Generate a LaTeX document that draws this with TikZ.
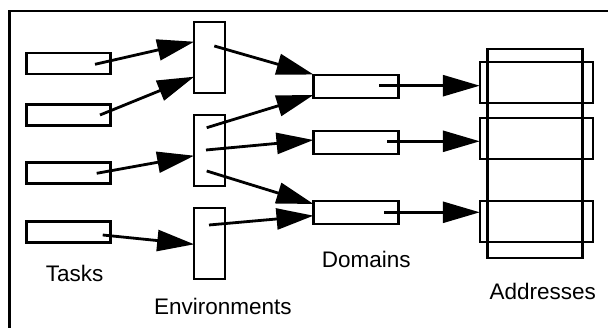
\documentclass[tikz,border=0pt]{standalone}
\usepackage{fontspec}
\setmainfont{Liberation Sans}
\usetikzlibrary{arrows.meta}
\begin{document}
\begin{tikzpicture}[x=1pt,y=-1pt,
  box/.style={draw=black,line width=2.3pt,inner sep=0pt,outer sep=0pt},
  taskbox/.style={box,minimum width=84pt,minimum height=21pt},
  envbox/.style={box,minimum width=31pt,minimum height=71pt},
  dombox/.style={box,minimum width=85pt,minimum height=23pt},
  addrbox/.style={box,minimum width=113pt,minimum height=41pt},
  arr/.style={line width=2.8pt,-{Triangle[length=37pt,width=21pt]}},
  lab/.style={anchor=base west,inner sep=0pt,font=\fontsize{22.5}{26}\selectfont}]
\useasboundingbox (0,0) rectangle (608,328);
% frame
\draw[line width=2.3pt] (9.5,328) -- (9.5,11) -- (608,11);
% tasks
\node[taskbox] (t1) at (68.5,63.8) {};
\node[taskbox] (t2) at (68.5,115) {};
\node[taskbox] (t3) at (68.5,173) {};
\node[taskbox] (t4) at (68.5,232) {};
% environments
\node[envbox] (e1) at (209.7,57.2) {};
\node[envbox] (e2) at (209.7,150.5) {};
\node[envbox] (e3) at (209.7,243.8) {};
% domains
\node[dombox] (d1) at (356,86.7) {};
\node[dombox] (d2) at (356,142.8) {};
\node[dombox] (d3) at (356,212.2) {};
% addresses
\node[box,minimum width=95pt,minimum height=209pt] (addr) at (535,153.7) {};
\node[addrbox] (a1) at (536.3,82.7) {};
\node[addrbox] (a2) at (536.3,138.7) {};
\node[addrbox] (a3) at (536.3,221.2) {};
% start points
\coordinate (s1) at (95,64.3);
\coordinate (s2) at (100,115);
\coordinate (s3) at (96.7,173.3);
\coordinate (s4) at (102.7,235);
\coordinate (s5) at (214.3,46);
\coordinate (s6) at (206.7,127.7);
\coordinate (s7) at (206,150);
\coordinate (s8) at (206.7,171);
\coordinate (s9) at (209,225);
\coordinate (s10) at (379.3,85.7);
\coordinate (s11) at (387.3,141.3);
\coordinate (s12) at (384.3,212.3);
% arrows tasks -> environments
\draw[arr] (s1) -- (e1.west |- 0,41.7);
\draw[arr] (s2) -- (e1.west |- 0,76.7);
\draw[arr] (s3) -- (e2.west |- 0,155.7);
\draw[arr] (s4) -- (e3.west |- 0,244.3);
% environments -> domains
\draw[arr] (s5) -- (d1.west |- 0,74.5);
\draw[arr] (s6) -- (d1.west |- 0,95);
\draw[arr] (s7) -- (d2.west |- 0,140);
\draw[arr] (s8) -- (d3.west |- 0,204);
\draw[arr] (s9) -- (d3.west |- 0,215.7);
% domains -> addresses
\draw[arr] (s10) -- (a1.west |- s10);
\draw[arr] (s11) -- (a2.west |- s11);
\draw[arr] (s12) -- (a3.west |- s12);
% labels
\node[lab] (ltasks) at (45.7,282) {Tasks};
\node[lab] (lenv) at (154,315) {Environments};
\node[lab] (ldom) at (321.7,268) {Domains};
\node[lab] (laddr) at (489.3,300) {Addresses};
\end{tikzpicture}
\end{document}
